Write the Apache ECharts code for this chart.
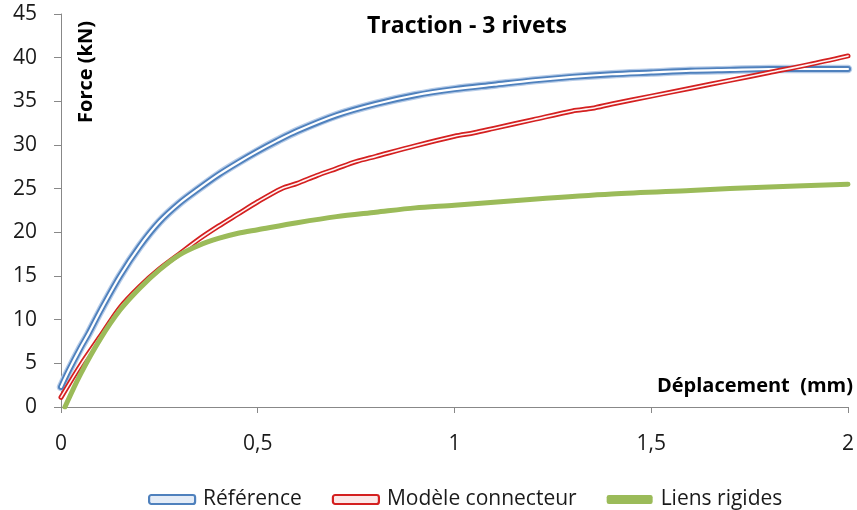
<!DOCTYPE html>
<html>
<head>
<meta charset="utf-8">
<script src="https://cdn.jsdelivr.net/npm/echarts@6/dist/echarts.min.js"></script>
<style>html,body{margin:0;padding:0;background:#fff}#c{width:857px;height:510px}</style>
</head>
<body>
<div id="c"></div>
<script>
const titleText = 'Traction - 3 rivets';
const xName = 'Déplacement  (mm)';
const yName = 'Force (kN)';
const seriesNames = ['Référence', 'Modèle connecteur', 'Liens rigides'];
const xTicks = [0, 0.5, 1, 1.5, 2];
const yTicks = [0, 5, 10, 15, 20, 25, 30, 35, 40, 45];

const refX = [0, 0.02, 0.05, 0.07, 0.1, 0.15, 0.2, 0.25, 0.3, 0.35, 0.4, 0.45, 0.5, 0.55, 0.6, 0.7, 0.8, 0.9, 1.0, 1.1, 1.2, 1.3, 1.4, 1.5, 1.6, 1.7, 1.8, 1.9, 2.0];
const refY = [2.3, 4.2, 6.8, 8.4, 11.0, 15.0, 18.4, 21.2, 23.3, 25.0, 26.6, 28.0, 29.3, 30.5, 31.6, 33.4, 34.7, 35.7, 36.4, 36.9, 37.4, 37.8, 38.1, 38.3, 38.5, 38.6, 38.7, 38.7, 38.7];

const modX = [0, 0.05, 0.1, 0.15, 0.2, 0.25, 0.3, 0.35, 0.4, 0.45, 0.5, 0.56, 0.6, 0.65, 0.7, 0.75, 0.8, 0.9, 1.0, 1.05, 1.1, 1.2, 1.3, 1.35, 1.4, 1.5, 1.6, 1.7, 1.8, 1.9, 2.0];
const modY = [1.1, 4.8, 8.1, 11.4, 13.8, 15.8, 17.5, 19.2, 20.7, 22.1, 23.5, 25.0, 25.6, 26.5, 27.3, 28.1, 28.7, 29.9, 31.0, 31.4, 31.9, 32.9, 33.9, 34.2, 34.7, 35.6, 36.5, 37.4, 38.3, 39.2, 40.2];

const rigX = [0.01, 0.05, 0.1, 0.15, 0.2, 0.25, 0.3, 0.35, 0.4, 0.45, 0.5, 0.6, 0.7, 0.8, 0.9, 1.0, 1.2, 1.4, 1.6, 1.8, 2.0];
const rigY = [0, 3.8, 7.8, 11.1, 13.6, 15.7, 17.4, 18.5, 19.3, 19.9, 20.3, 21.1, 21.8, 22.3, 22.8, 23.1, 23.8, 24.4, 24.8, 25.2, 25.5];

const pairs = (xs, ys) => xs.map((x, i) => [x, ys[i]]);
const FONT = '"Open Sans"';

function lineSeries(name, data, width, color, z) {
  return {
    type: 'line', name: name, data: data, showSymbol: false, symbol: 'none',
    smooth: 0.3, silent: true, z: z,
    lineStyle: { width: width, color: color, cap: 'round', join: 'round' },
    itemStyle: { color: color }
  };
}

const chart = echarts.init(document.getElementById('c'), null, { renderer: 'canvas' });
chart.setOption({
  animation: false,
  backgroundColor: '#ffffff',
  title: {
    text: titleText, left: 462, top: 10, textAlign: 'center',
    textStyle: { fontFamily: FONT, fontWeight: 'bold', fontSize: 23, color: '#000' }
  },
  grid: { left: 61, right: 5, top: 14, bottom: 103, containLabel: false },
  legend: {
    top: 484, left: 143, itemGap: 30, itemWidth: 46, itemHeight: 9,
    textStyle: { fontFamily: FONT, fontSize: 21, color: '#1a1a1a', padding: [0, 0, 0, 3] },
    data: [
      { name: seriesNames[0], icon: 'roundRect', itemStyle: { color: '#e4ecf7', borderColor: '#4f81bd', borderWidth: 2.2 } },
      { name: seriesNames[1], icon: 'roundRect', itemStyle: { color: '#fbe8e8', borderColor: '#d42020', borderWidth: 2.2 } },
      { name: seriesNames[2], icon: 'roundRect', itemStyle: { color: '#9bbb59', borderColor: '#9bbb59', borderWidth: 0 } }
    ]
  },
  xAxis: {
    type: 'value', min: 0, max: 2, interval: 0.5,
    axisLine: { lineStyle: { color: '#888', width: 1 } },
    axisTick: { show: true, length: 6, lineStyle: { color: '#888' } },
    splitLine: { show: false },
    axisLabel: {
      margin: 27, fontFamily: FONT, fontSize: 21, color: '#1a1a1a',
      formatter: v => String(v).replace('.', ',')
    }
  },
  yAxis: {
    type: 'value', min: 0, max: 45, interval: 5,
    axisLine: { show: true, lineStyle: { color: '#888', width: 1 } },
    axisTick: { show: true, length: 7, lineStyle: { color: '#888' } },
    splitLine: { show: false },
    axisLabel: { margin: 24, fontFamily: FONT, fontSize: 21, color: '#1a1a1a' }
  },
  graphic: [
    { type: 'text', x: 86, y: 72, rotation: Math.PI / 2,
      style: { text: yName, align: 'center', verticalAlign: 'middle', font: 'bold 20px "Open Sans"', fill: '#000' } },
    { type: 'text', x: 853, y: 386,
      style: { text: xName, align: 'right', verticalAlign: 'middle', font: 'bold 20px "Open Sans"', fill: '#000' } }
  ],
  series: [
    lineSeries(seriesNames[0], pairs(refX, refY), 8.5, '#b7cce8', 2),
    lineSeries(seriesNames[0], pairs(refX, refY), 6, '#4f81bd', 3),
    lineSeries(seriesNames[0], pairs(refX, refY), 2.2, '#ffffff', 4),
    lineSeries(seriesNames[1], pairs(modX, modY), 5, '#d42020', 5),
    lineSeries(seriesNames[1], pairs(modX, modY), 1.6, '#fff4f4', 6),
    lineSeries(seriesNames[2], pairs(rigX, rigY), 5, '#9bbb59', 7)
  ]
});
</script>
</body>
</html>
